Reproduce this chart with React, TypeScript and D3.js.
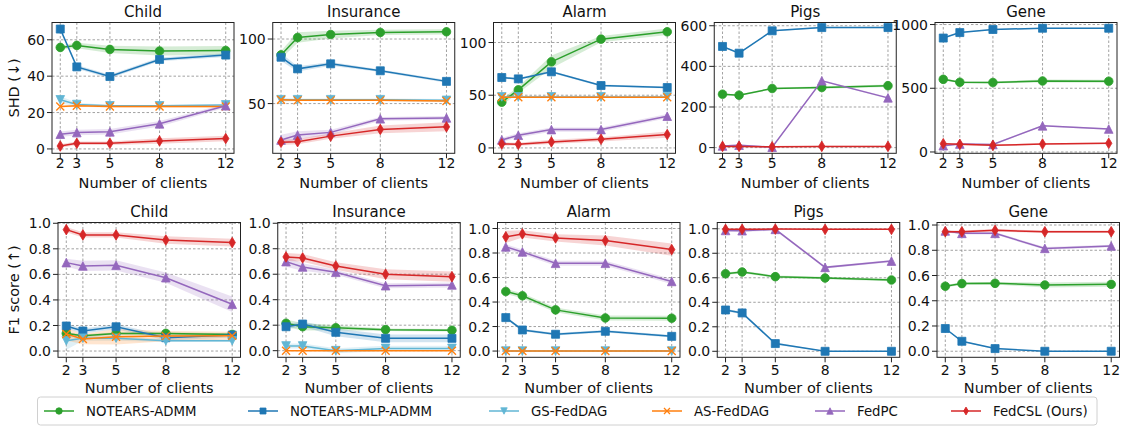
import * as d3 from "d3";

const clients = [2, 3, 5, 8, 12];
const datasets = ["Child", "Insurance", "Alarm", "Pigs", "Gene"];
const methods = ["NOTEARS-ADMM", "NOTEARS-MLP-ADMM", "GS-FedDAG", "AS-FedDAG", "FedPC", "FedCSL (Ours)"];
const colors = ["#2ca02c", "#1f77b4", "#62b6d4", "#ff7f0e", "#9467bd", "#d62728"];
const markers = ["circle", "square", "triDown", "x", "triUp", "thinDiamond"];

// SHD (lower is better), rows follow `methods`
const shdChild = [
  [55.8, 56.9, 54.7, 53.8, 54.1],
  [65.9, 45.1, 39.8, 49.2, 51.6],
  [27, 24.4, 23.7, 23.7, 24.2],
  [23.3, 23.7, 23.3, 23.3, 23.3],
  [8.1, 9, 9.4, 13.8, 23.7],
  [1.6, 3.1, 3.1, 4.4, 5.7],
];
const shdChildSd = [
  [1, 1.5, 2, 2.5, 2.5],
  [1, 1, 1, 1, 1],
  [2, 1, 0.5, 0.5, 0.5],
  [0.5, 0.5, 0.5, 0.5, 0.5],
  [1.5, 1.5, 1.5, 1.5, 1],
  [1, 1, 1, 1.5, 1.5],
];
const shdInsurance = [
  [87.7, 101.2, 103.5, 105.1, 105.6],
  [85.9, 76.9, 80.8, 75.4, 67.2],
  [53, 53, 53, 53, 52.5],
  [53, 52.5, 52.5, 52.5, 52],
  [21.8, 25.6, 27.7, 38.2, 38.9],
  [20, 20.5, 24.8, 30, 32],
];
const shdInsuranceSd = [
  [3, 4, 3, 2, 2],
  [3, 2, 1.5, 1, 1],
  [1.5, 1, 1, 1, 1],
  [0.5, 0.5, 0.5, 0.5, 0.5],
  [4, 3, 2, 1.5, 1.5],
  [2, 2, 2, 3, 3.5],
];
const shdAlarm = [
  [43.4, 55.1, 81.7, 103.2, 110.2],
  [66.8, 65.5, 72.2, 59.2, 57.3],
  [48.4, 48.4, 48.4, 48.4, 48.4],
  [48, 48, 48, 48, 48],
  [7.6, 12, 17.4, 17.4, 30.1],
  [3.8, 3.5, 5.7, 8.2, 12.7],
];
const shdAlarmSd = [
  [3, 3, 6, 3, 3],
  [1, 1, 1, 1, 1],
  [1, 1, 1, 1, 1],
  [0.5, 0.5, 0.5, 0.5, 0.5],
  [2, 2, 2, 2, 2],
  [1.5, 1.5, 2, 2, 3],
];
const shdPigs = [
  [263, 258, 291, 296, 305],
  [498, 465, 575, 591, 591],
  null,
  null,
  [8, 12, 2, 329, 245],
  [6, 6, 4, 6, 6],
];
const shdPigsSd = [
  [4, 4, 4, 6, 6],
  [3, 3, 3, 3, 3],
  null,
  null,
  [4, 4, 3, 4, 4],
  [3, 3, 3, 3, 3],
];
const shdGene = [
  [570, 547, 545, 557, 555],
  [894, 937, 961, 971, 971],
  null,
  null,
  [49, 62, 59, 205, 180],
  [65, 60, 52, 62, 68],
];
const shdGeneSd = [
  [8, 8, 8, 12, 12],
  [4, 4, 4, 4, 4],
  null,
  null,
  [6, 6, 6, 6, 6],
  [6, 6, 6, 6, 6],
];

// F1 score (higher is better)
const f1Child = [
  [0.138, 0.12, 0.138, 0.138, 0.13],
  [0.196, 0.157, 0.19, 0.104, 0.125],
  [0.08, 0.1, 0.1, 0.08, 0.08],
  [0.133, 0.094, 0.112, 0.117, 0.12],
  [0.692, 0.666, 0.671, 0.574, 0.366],
  [0.95, 0.909, 0.909, 0.869, 0.849],
];
const f1ChildSd = [
  [0.01, 0.01, 0.01, 0.01, 0.01],
  [0.02, 0.02, 0.02, 0.02, 0.02],
  [0.07, 0.02, 0.02, 0.01, 0.01],
  [0.05, 0.04, 0.06, 0.04, 0.03],
  [0.03, 0.04, 0.04, 0.04, 0.06],
  [0.02, 0.02, 0.02, 0.03, 0.03],
];
const f1Insurance = [
  [0.215, 0.188, 0.18, 0.165, 0.16],
  [0.188, 0.209, 0.144, 0.097, 0.097],
  [0.037, 0.037, 0, 0.018, 0.018],
  [0, 0, 0, 0, 0],
  [0.699, 0.657, 0.615, 0.51, 0.516],
  [0.736, 0.728, 0.665, 0.6, 0.581],
];
const f1InsuranceSd = [
  [0.03, 0.03, 0.02, 0.01, 0.01],
  [0.02, 0.02, 0.03, 0.03, 0.03],
  [0.02, 0.02, 0.02, 0.02, 0.02],
  [0, 0, 0, 0, 0],
  [0.04, 0.03, 0.02, 0.02, 0.02],
  [0.03, 0.03, 0.03, 0.04, 0.04],
];
const f1Alarm = [
  [0.486, 0.451, 0.336, 0.27, 0.268],
  [0.273, 0.172, 0.137, 0.161, 0.12],
  [0, 0, 0, 0, 0],
  [0, 0, 0, 0, 0],
  [0.85, 0.809, 0.716, 0.716, 0.568],
  [0.932, 0.956, 0.923, 0.902, 0.828],
];
const f1AlarmSd = [
  [0.02, 0.02, 0.02, 0.02, 0.02],
  [0.01, 0.01, 0.01, 0.01, 0.01],
  [0, 0, 0, 0, 0],
  [0, 0, 0, 0, 0],
  [0.02, 0.02, 0.02, 0.02, 0.02],
  [0.05, 0.03, 0.03, 0.04, 0.05],
];
const f1Pigs = [
  [0.633, 0.647, 0.609, 0.598, 0.582],
  [0.337, 0.313, 0.063, 0, 0],
  null,
  null,
  [0.986, 0.984, 0.995, 0.685, 0.736],
  [0.995, 0.995, 0.997, 0.995, 0.995],
];
const f1PigsSd = [
  [0.01, 0.01, 0.01, 0.01, 0.01],
  [0.01, 0.01, 0.01, 0, 0],
  null,
  null,
  [0.01, 0.01, 0.01, 0.01, 0.01],
  [0.005, 0.005, 0.005, 0.005, 0.005],
];
const f1Gene = [
  [0.515, 0.536, 0.538, 0.525, 0.53],
  [0.18, 0.079, 0.021, 0, 0],
  null,
  null,
  [0.953, 0.934, 0.934, 0.815, 0.834],
  [0.947, 0.947, 0.958, 0.947, 0.947],
];
const f1GeneSd = [
  [0.01, 0.01, 0.01, 0.02, 0.02],
  [0.005, 0.005, 0.005, 0, 0],
  null,
  null,
  [0.01, 0.01, 0.01, 0.01, 0.01],
  [0.01, 0.01, 0.01, 0.01, 0.01],
];

const shdTicks = [[0, 20, 40, 60], [50, 100], [0, 50, 100], [0, 200, 400, 600], [0, 500, 1000]];
const shdLimits = [[-2.4, 69.5], [11.5, 112.8], [-5.1, 119], [-28, 616], [-10.4, 1016]];
const f1Ticks = [0, 0.2, 0.4, 0.6, 0.8, 1.0];
const f1Limits = [[-0.049, 1.006], [-0.052, 1.006], [-0.051, 1.049], [-0.049, 1.051], [-0.048, 1.02]];

const shdRows = [shdChild, shdInsurance, shdAlarm, shdPigs, shdGene];
const shdSds = [shdChildSd, shdInsuranceSd, shdAlarmSd, shdPigsSd, shdGeneSd];
const f1Rows = [f1Child, f1Insurance, f1Alarm, f1Pigs, f1Gene];
const f1Sds = [f1ChildSd, f1InsuranceSd, f1AlarmSd, f1PigsSd, f1GeneSd];

const legendTextX = [86, 290, 531, 694, 857, 993];

const FONT = "DejaVu Sans, sans-serif";

function markerPath(kind: string, k = 1) {
  if (kind === "circle") return d3.symbol().type(d3.symbolCircle).size(Math.PI * 4.3 * 4.3 * k * k)() as string;
  if (kind === "square") {
    const s = 4 * k;
    return `M${-s},${-s}H${s}V${s}H${-s}Z`;
  }
  if (kind === "triUp") {
    const s = 4.3 * k;
    return `M0,${-s}L${s},${s}L${-s},${s}Z`;
  }
  if (kind === "triDown") {
    const s = 4.3 * k;
    return `M0,${s}L${s},${-s}L${-s},${-s}Z`;
  }
  if (kind === "x") {
    const s = 4 * k;
    return `M${-s},${-s}L${s},${s}M${s},${-s}L${-s},${s}`;
  }
  const s = 5.3 * k;
  return `M0,${-s}L${s * 0.6},0L0,${s}L${-s * 0.6},0Z`;
}

function Marker({ kind, color, x, y, k = 1 }: { kind: string; color: string; x: number; y: number; k?: number }) {
  const d = markerPath(kind, k);
  if (kind === "x") return <path d={d} transform={`translate(${x},${y})`} stroke={color} strokeWidth={1.3} fill="none" />;
  return <path d={d} transform={`translate(${x},${y})`} fill={color} stroke={color} strokeWidth={0.8} />;
}

type PanelProps = {
  left: number;
  top: number;
  width: number;
  height: number;
  title: string;
  ylabel?: string;
  limits: number[];
  ticks: number[];
  fmt: (v: number) => string;
  rows: (number[] | null)[];
  sds: (number[] | null)[];
  titleY: number;
  tickY: number;
  labelY: number;
};

function Panel(p: PanelProps) {
  const x = d3.scaleLinear().domain([1.5, 12.5]).range([p.left, p.left + p.width]);
  const y = d3.scaleLinear().domain(p.limits).range([p.top + p.height, p.top]);
  const line = d3.line<number>().x((_, i) => x(clients[i])).y((v) => y(v));
  const bottom = p.top + p.height;

  return (
    <g>
      {/* grid */}
      {clients.map((c) => (
        <line key={"gx" + c} x1={x(c)} x2={x(c)} y1={p.top} y2={bottom} stroke="#8a8a8a" strokeWidth={0.8} strokeDasharray="2.5,2" />
      ))}
      {p.ticks.map((t) => (
        <line key={"gy" + t} x1={p.left} x2={p.left + p.width} y1={y(t)} y2={y(t)} stroke="#8a8a8a" strokeWidth={0.8} strokeDasharray="2.5,2" />
      ))}
      {/* bands */}
      {p.rows.map((row, m) => {
        const sd = p.sds[m];
        if (!row || !sd) return null;
        const area = d3
          .area<number>()
          .x((_, i) => x(clients[i]))
          .y0((v, i) => y(v - sd[i]))
          .y1((v, i) => y(v + sd[i]));
        return <path key={"b" + m} d={area(row) as string} fill={colors[m]} fillOpacity={0.2} />;
      })}
      {/* lines & markers */}
      {p.rows.map((row, m) =>
        row ? (
          <g key={"l" + m}>
            <path d={line(row) as string} fill="none" stroke={colors[m]} strokeWidth={1.5} />
            {row.map((v, i) => (
              <Marker key={i} kind={markers[m]} color={colors[m]} x={x(clients[i])} y={y(v)} />
            ))}
          </g>
        ) : null
      )}
      {/* frame */}
      <rect x={p.left} y={p.top} width={p.width} height={p.height} fill="none" stroke="#222" strokeWidth={1} />
      {/* x ticks */}
      {clients.map((c) => (
        <g key={"tx" + c}>
          <line x1={x(c)} x2={x(c)} y1={bottom} y2={bottom + 5} stroke="#222" />
          <text x={x(c)} y={p.tickY} textAnchor="middle" fontSize={14} fontFamily={FONT} fill="#111">
            {c}
          </text>
        </g>
      ))}
      {/* y ticks */}
      {p.ticks.map((t) => (
        <g key={"ty" + t}>
          <line x1={p.left - 5} x2={p.left} y1={y(t)} y2={y(t)} stroke="#222" />
          <text x={p.left - 7} y={y(t)} dy="0.36em" textAnchor="end" fontSize={14} fontFamily={FONT} fill="#111">
            {p.fmt(t)}
          </text>
        </g>
      ))}
      <text x={p.left + p.width / 2} y={p.titleY} textAnchor="middle" fontSize={15} fontFamily={FONT} fill="#111">
        {p.title}
      </text>
      <text x={p.left + p.width / 2} y={p.labelY} textAnchor="middle" fontSize={14.5} fontFamily={FONT} fill="#111">
        Number of clients
      </text>
      {p.ylabel ? (
        <text
          transform={`translate(14,${p.top + p.height / 2}) rotate(-90)`}
          dy="0.36em"
          textAnchor="middle"
          fontSize={14.5}
          fontFamily={FONT}
          fill="#111"
        >
          {p.ylabel}
        </text>
      ) : null}
    </g>
  );
}

export default function App() {
  const W = 1125;
  const H = 430;
  return (
    <div style={{ position: "absolute", left: 0, top: 0 }}>
      <svg width={W} height={H} style={{ display: "block", background: "#fff" }}>
        {datasets.map((name, i) => (
          <Panel
            key={"shd" + name}
            left={52 + i * 220.75}
            top={22.5}
            width={182}
            height={130.8}
            title={name}
            ylabel={i === 0 ? "SHD (\u2193)" : undefined}
            limits={shdLimits[i]}
            ticks={shdTicks[i]}
            fmt={(v) => d3.format("d")(v)}
            rows={shdRows[i]}
            sds={shdSds[i]}
            titleY={17}
            tickY={168}
            labelY={188}
          />
        ))}
        {datasets.map((name, i) => (
          <Panel
            key={"f1" + name}
            left={58 + i * 219.75}
            top={222.5}
            width={182.5}
            height={134.8}
            title={name}
            ylabel={i === 0 ? "F1 score (\u2191)" : undefined}
            limits={f1Limits[i]}
            ticks={f1Ticks}
            fmt={(v) => d3.format(".1f")(v)}
            rows={f1Rows[i]}
            sds={f1Sds[i]}
            titleY={217}
            tickY={375}
            labelY={393}
          />
        ))}
        {/* legend */}
        <rect x={37.5} y={397} width={1059.5} height={28} rx={3} fill="#fff" stroke="#d0d0d0" strokeWidth={1} />
        {methods.map((m, i) => {
          const tx = legendTextX[i];
          return (
            <g key={"lg" + m}>
              <line x1={tx - 42} x2={tx - 12} y1={411} y2={411} stroke={colors[i]} strokeWidth={1.5} />
              <Marker kind={markers[i]} color={colors[i]} x={tx - 27} y={411} k={0.75} />
              <text x={tx} y={411} dy="0.36em" fontSize={13.3} fontFamily={FONT} fill="#111">
                {m}
              </text>
            </g>
          );
        })}
      </svg>
    </div>
  );
}
